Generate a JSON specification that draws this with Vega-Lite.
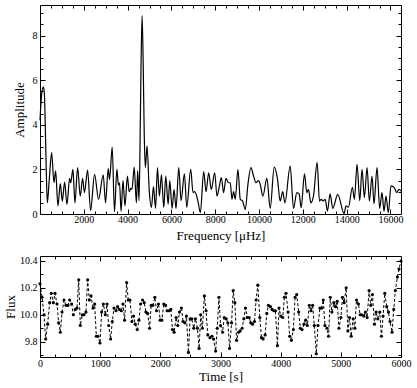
{
  "$schema": "https://vega.github.io/schema/vega-lite/v6.json",
  "padding": {"left": 4, "top": 4, "right": 10, "bottom": 4},
  "background": "white",
  "config": {
    "view": {"stroke": "black", "strokeWidth": 1},
    "axis": {
      "domain": false, "grid": false,
      "labelFont": "Liberation Serif", "titleFont": "Liberation Serif",
      "labelFontSize": 10, "titleFontSize": 13, "titleFontWeight": "normal",
      "labelColor": "black", "titleColor": "black", "tickColor": "black",
      "labelFlush": false, "labelOverlap": false, "labelPadding": 8
    }
  },
  "datasets": {
    "spec": [
      {"f": 0, "a": 4.2}, {"f": 80, "a": 5.4}, {"f": 150, "a": 5.7}, {"f": 200, "a": 5.4}, {"f": 240, "a": 4.0},
      {"f": 290, "a": 1.8}, {"f": 334, "a": 0.5}, {"f": 420, "a": 1.5}, {"f": 532, "a": 2.75}, {"f": 638, "a": 1.4},
      {"f": 714, "a": 1.93}, {"f": 820, "a": 0.36}, {"f": 927, "a": 1.36}, {"f": 1018, "a": 0.58}, {"f": 1124, "a": 1.43},
      {"f": 1230, "a": 0.43}, {"f": 1352, "a": 1.6}, {"f": 1400, "a": 1.4}, {"f": 1504, "a": 2.0}, {"f": 1595, "a": 0.5},
      {"f": 1716, "a": 2.08}, {"f": 1838, "a": 0.8}, {"f": 1944, "a": 1.6}, {"f": 2030, "a": 0.96}, {"f": 2172, "a": 1.97},
      {"f": 2309, "a": 0.16}, {"f": 2491, "a": 1.78}, {"f": 2673, "a": 0.66}, {"f": 2886, "a": 1.75}, {"f": 2992, "a": 0.5},
      {"f": 3114, "a": 2.03}, {"f": 3175, "a": 1.55}, {"f": 3296, "a": 3.0}, {"f": 3400, "a": 0.1}, {"f": 3510, "a": 2.0},
      {"f": 3580, "a": 1.3}, {"f": 3630, "a": 1.4}, {"f": 3700, "a": 0.12}, {"f": 3790, "a": 1.5}, {"f": 3880, "a": 0.36},
      {"f": 3990, "a": 1.7}, {"f": 4070, "a": 1.0}, {"f": 4150, "a": 1.15}, {"f": 4200, "a": 1.1}, {"f": 4300, "a": 2.1},
      {"f": 4400, "a": 0.5}, {"f": 4460, "a": 1.95}, {"f": 4520, "a": 0.6}, {"f": 4560, "a": 2.6}, {"f": 4610, "a": 6.5},
      {"f": 4660, "a": 8.9}, {"f": 4710, "a": 6.8}, {"f": 4760, "a": 3.5}, {"f": 4810, "a": 2.08}, {"f": 4885, "a": 3.05},
      {"f": 4990, "a": 1.0}, {"f": 5087, "a": 0.3}, {"f": 5180, "a": 1.23}, {"f": 5275, "a": 0.25}, {"f": 5362, "a": 2.08},
      {"f": 5450, "a": 0.8}, {"f": 5544, "a": 1.75}, {"f": 5650, "a": 0.3}, {"f": 5742, "a": 1.7}, {"f": 5850, "a": 0.43},
      {"f": 5924, "a": 1.5}, {"f": 6030, "a": 0.25}, {"f": 6120, "a": 1.1}, {"f": 6210, "a": 0.25}, {"f": 6334, "a": 2.08},
      {"f": 6440, "a": 0.6}, {"f": 6592, "a": 1.8}, {"f": 6700, "a": 0.3}, {"f": 6880, "a": 2.0}, {"f": 6985, "a": 0.96},
      {"f": 7060, "a": 1.0}, {"f": 7210, "a": 0.58}, {"f": 7321, "a": 0.06}, {"f": 7473, "a": 1.9}, {"f": 7580, "a": 1.0},
      {"f": 7701, "a": 1.85}, {"f": 7820, "a": 1.1}, {"f": 7975, "a": 1.85}, {"f": 8080, "a": 0.8}, {"f": 8180, "a": 1.2},
      {"f": 8277, "a": 1.63}, {"f": 8383, "a": 0.96}, {"f": 8489, "a": 1.6}, {"f": 8611, "a": 1.4}, {"f": 8687, "a": 1.4},
      {"f": 8763, "a": 0.66}, {"f": 8839, "a": 1.0}, {"f": 8915, "a": 0.66}, {"f": 9036, "a": 2.0}, {"f": 9142, "a": 0.66},
      {"f": 9249, "a": 0.58}, {"f": 9370, "a": 0.2}, {"f": 9492, "a": 1.33}, {"f": 9628, "a": 2.08}, {"f": 9750, "a": 1.7},
      {"f": 9856, "a": 1.4}, {"f": 9978, "a": 1.5}, {"f": 10054, "a": 1.33}, {"f": 10175, "a": 0.8}, {"f": 10358, "a": 1.6},
      {"f": 10509, "a": 0.25}, {"f": 10692, "a": 2.1}, {"f": 10844, "a": 1.55}, {"f": 10965, "a": 0.58}, {"f": 11080, "a": 1.0},
      {"f": 11180, "a": 0.5}, {"f": 11421, "a": 2.15}, {"f": 11573, "a": 0.25}, {"f": 11725, "a": 0.96}, {"f": 11831, "a": 0.9},
      {"f": 11922, "a": 0.28}, {"f": 12074, "a": 1.8}, {"f": 12180, "a": 0.96}, {"f": 12256, "a": 1.1}, {"f": 12363, "a": 0.5},
      {"f": 12484, "a": 0.8}, {"f": 12651, "a": 2.3}, {"f": 12760, "a": 0.58}, {"f": 12840, "a": 0.66}, {"f": 12930, "a": 0.58},
      {"f": 13020, "a": 0.66}, {"f": 13122, "a": 0.13}, {"f": 13244, "a": 0.9}, {"f": 13365, "a": 0.25}, {"f": 13593, "a": 0.88},
      {"f": 13882, "a": 0.02}, {"f": 13973, "a": 0.36}, {"f": 14079, "a": 0.3}, {"f": 14261, "a": 1.2}, {"f": 14353, "a": 0.66},
      {"f": 14474, "a": 2.23}, {"f": 14596, "a": 0.6}, {"f": 14702, "a": 2.0}, {"f": 14808, "a": 0.73}, {"f": 14930, "a": 2.08},
      {"f": 15036, "a": 0.58}, {"f": 15158, "a": 1.7}, {"f": 15248, "a": 0.46}, {"f": 15385, "a": 2.08}, {"f": 15507, "a": 0.25},
      {"f": 15613, "a": 0.96}, {"f": 15704, "a": 0.13}, {"f": 15796, "a": 0.8}, {"f": 15902, "a": 0.06}, {"f": 16024, "a": 1.26},
      {"f": 16175, "a": 1.18}, {"f": 16282, "a": 0.96}, {"f": 16388, "a": 1.1}, {"f": 16480, "a": 1.03}
    ],
    "lc": [
      {"t": 0, "v": 10.23}, {"t": 34, "v": 10.13}, {"t": 66, "v": 10.0}, {"t": 94, "v": 9.82}, {"t": 127, "v": 9.93},
      {"t": 161, "v": 10.09}, {"t": 188, "v": 10.16}, {"t": 222, "v": 10.09}, {"t": 249, "v": 10.16}, {"t": 283, "v": 10.08},
      {"t": 310, "v": 9.94}, {"t": 338, "v": 9.87}, {"t": 366, "v": 10.02}, {"t": 399, "v": 10.11}, {"t": 432, "v": 10.07},
      {"t": 465, "v": 10.07}, {"t": 493, "v": 10.11}, {"t": 526, "v": 10.08}, {"t": 554, "v": 10.0}, {"t": 587, "v": 10.04},
      {"t": 615, "v": 10.05}, {"t": 643, "v": 10.26}, {"t": 670, "v": 9.92}, {"t": 704, "v": 10.0}, {"t": 731, "v": 10.0},
      {"t": 764, "v": 10.02}, {"t": 792, "v": 10.26}, {"t": 820, "v": 10.11}, {"t": 848, "v": 10.14}, {"t": 881, "v": 10.05},
      {"t": 909, "v": 10.08}, {"t": 936, "v": 9.84}, {"t": 964, "v": 9.84}, {"t": 997, "v": 9.79}, {"t": 1025, "v": 10.02},
      {"t": 1053, "v": 10.08}, {"t": 1086, "v": 10.0}, {"t": 1114, "v": 10.08}, {"t": 1141, "v": 9.92}, {"t": 1174, "v": 9.82},
      {"t": 1202, "v": 9.95}, {"t": 1230, "v": 10.05}, {"t": 1263, "v": 10.03}, {"t": 1290, "v": 10.06}, {"t": 1318, "v": 10.04},
      {"t": 1351, "v": 10.03}, {"t": 1379, "v": 10.08}, {"t": 1406, "v": 9.96}, {"t": 1440, "v": 10.24}, {"t": 1467, "v": 10.11},
      {"t": 1495, "v": 10.11}, {"t": 1528, "v": 9.95}, {"t": 1556, "v": 9.99}, {"t": 1583, "v": 9.93}, {"t": 1616, "v": 9.89},
      {"t": 1644, "v": 9.96}, {"t": 1672, "v": 10.08}, {"t": 1705, "v": 10.11}, {"t": 1732, "v": 10.09}, {"t": 1760, "v": 10.02},
      {"t": 1788, "v": 10.01}, {"t": 1821, "v": 9.9}, {"t": 1848, "v": 10.07}, {"t": 1876, "v": 10.07}, {"t": 1909, "v": 10.13},
      {"t": 1937, "v": 10.03}, {"t": 1970, "v": 10.08}, {"t": 1997, "v": 9.96}, {"t": 2025, "v": 9.96}, {"t": 2058, "v": 10.08},
      {"t": 2086, "v": 10.07}, {"t": 2113, "v": 10.03}, {"t": 2146, "v": 10.03}, {"t": 2174, "v": 10.04}, {"t": 2202, "v": 9.89},
      {"t": 2229, "v": 9.87}, {"t": 2263, "v": 9.98}, {"t": 2290, "v": 9.92}, {"t": 2318, "v": 10.02}, {"t": 2351, "v": 10.05},
      {"t": 2378, "v": 9.95}, {"t": 2406, "v": 9.94}, {"t": 2434, "v": 9.99}, {"t": 2467, "v": 9.72}, {"t": 2495, "v": 9.97},
      {"t": 2522, "v": 9.97}, {"t": 2555, "v": 9.9}, {"t": 2583, "v": 9.97}, {"t": 2616, "v": 9.9}, {"t": 2644, "v": 9.75},
      {"t": 2671, "v": 10.0}, {"t": 2699, "v": 9.9}, {"t": 2732, "v": 10.14}, {"t": 2760, "v": 10.03}, {"t": 2788, "v": 9.85},
      {"t": 2825, "v": 9.83}, {"t": 2858, "v": 9.84}, {"t": 2885, "v": 9.82}, {"t": 2919, "v": 9.73}, {"t": 2946, "v": 9.9},
      {"t": 2974, "v": 10.13}, {"t": 3001, "v": 9.92}, {"t": 3035, "v": 9.87}, {"t": 3062, "v": 9.98}, {"t": 3095, "v": 9.97},
      {"t": 3123, "v": 9.94}, {"t": 3151, "v": 9.75}, {"t": 3184, "v": 9.94}, {"t": 3211, "v": 10.18}, {"t": 3239, "v": 10.09},
      {"t": 3267, "v": 9.81}, {"t": 3300, "v": 9.87}, {"t": 3327, "v": 9.88}, {"t": 3360, "v": 9.9}, {"t": 3388, "v": 9.97},
      {"t": 3416, "v": 10.05}, {"t": 3443, "v": 9.98}, {"t": 3476, "v": 9.98}, {"t": 3504, "v": 9.94}, {"t": 3532, "v": 9.93},
      {"t": 3565, "v": 9.95}, {"t": 3592, "v": 10.11}, {"t": 3620, "v": 10.22}, {"t": 3653, "v": 9.98}, {"t": 3681, "v": 9.83},
      {"t": 3708, "v": 9.82}, {"t": 3742, "v": 9.85}, {"t": 3769, "v": 10.01}, {"t": 3797, "v": 10.07}, {"t": 3830, "v": 10.06},
      {"t": 3857, "v": 10.04}, {"t": 3885, "v": 10.03}, {"t": 3913, "v": 10.03}, {"t": 3946, "v": 9.77}, {"t": 3973, "v": 10.05},
      {"t": 4001, "v": 9.99}, {"t": 4034, "v": 9.98}, {"t": 4062, "v": 10.13}, {"t": 4089, "v": 10.16}, {"t": 4123, "v": 10.02},
      {"t": 4150, "v": 9.84}, {"t": 4178, "v": 9.81}, {"t": 4211, "v": 9.89}, {"t": 4239, "v": 10.13}, {"t": 4266, "v": 10.15},
      {"t": 4299, "v": 10.02}, {"t": 4327, "v": 9.9}, {"t": 4355, "v": 9.89}, {"t": 4388, "v": 9.93}, {"t": 4415, "v": 9.96},
      {"t": 4443, "v": 9.92}, {"t": 4476, "v": 10.07}, {"t": 4504, "v": 10.03}, {"t": 4531, "v": 10.07}, {"t": 4559, "v": 9.92},
      {"t": 4592, "v": 9.71}, {"t": 4620, "v": 9.92}, {"t": 4653, "v": 10.05}, {"t": 4680, "v": 10.05}, {"t": 4708, "v": 10.11},
      {"t": 4736, "v": 9.92}, {"t": 4769, "v": 9.9}, {"t": 4796, "v": 9.84}, {"t": 4824, "v": 10.13}, {"t": 4852, "v": 10.02},
      {"t": 4885, "v": 10.09}, {"t": 4912, "v": 10.06}, {"t": 4940, "v": 10.1}, {"t": 4968, "v": 9.9}, {"t": 5001, "v": 9.98},
      {"t": 5028, "v": 10.13}, {"t": 5056, "v": 10.09}, {"t": 5089, "v": 10.2}, {"t": 5117, "v": 9.88}, {"t": 5144, "v": 9.98},
      {"t": 5172, "v": 9.84}, {"t": 5205, "v": 9.97}, {"t": 5233, "v": 9.9}, {"t": 5260, "v": 10.11}, {"t": 5293, "v": 10.08},
      {"t": 5321, "v": 10.0}, {"t": 5349, "v": 10.0}, {"t": 5382, "v": 9.99}, {"t": 5409, "v": 10.02}, {"t": 5437, "v": 9.98},
      {"t": 5470, "v": 10.18}, {"t": 5498, "v": 10.07}, {"t": 5525, "v": 10.15}, {"t": 5559, "v": 9.93}, {"t": 5586, "v": 10.02},
      {"t": 5614, "v": 9.97}, {"t": 5647, "v": 10.02}, {"t": 5675, "v": 9.84}, {"t": 5702, "v": 9.99}, {"t": 5730, "v": 10.16},
      {"t": 5763, "v": 10.06}, {"t": 5791, "v": 10.02}, {"t": 5818, "v": 9.95}, {"t": 5851, "v": 9.87}, {"t": 5879, "v": 10.04},
      {"t": 5906, "v": 10.18}, {"t": 5940, "v": 10.28}, {"t": 5967, "v": 10.34}, {"t": 6000, "v": 10.4}
    ]
  },
  "vconcat": [
    {
      "width": 361, "height": 209,
      "data": {"name": "spec"},
      "layer": [
        {
          "mark": {"type": "line", "color": "black", "strokeWidth": 1.2, "interpolate": "monotone"},
          "encoding": {
            "x": {"field": "f", "type": "quantitative", "scale": {"domain": [0, 16480], "nice": false, "zero": false},
              "axis": {"orient": "bottom", "title": "Frequency [μHz]",
                "values": [500,1000,1500,2000,2500,3000,3500,4000,4500,5000,5500,6000,6500,7000,7500,8000,8500,9000,9500,10000,10500,11000,11500,12000,12500,13000,13500,14000,14500,15000,15500,16000],
                "labelExpr": "datum.value % 2000 === 0 ? datum.label : ''", "format": "d", "labelPadding": 5,
                "tickSize": {"condition": {"test": "datum.value % 2000 === 0", "value": -5}, "value": -3}, "titlePadding": 3}},
            "y": {"field": "a", "type": "quantitative", "scale": {"domain": [0, 9.37], "nice": false},
              "axis": {"orient": "left", "title": "Amplitude",
                "values": [0,0.5,1,1.5,2,2.5,3,3.5,4,4.5,5,5.5,6,6.5,7,7.5,8,8.5,9],
                "labelExpr": "datum.value % 2 === 0 ? datum.label : ''", "format": ".0f",
                "tickSize": {"condition": {"test": "datum.value % 2 === 0", "value": -5}, "value": -3}, "titlePadding": 6}}
          }
        },
        {
          "mark": {"type": "line", "opacity": 0},
          "encoding": {
            "x": {"field": "f", "type": "quantitative",
              "axis": {"orient": "top", "title": null, "labels": false,
                "values": [500,1000,1500,2000,2500,3000,3500,4000,4500,5000,5500,6000,6500,7000,7500,8000,8500,9000,9500,10000,10500,11000,11500,12000,12500,13000,13500,14000,14500,15000,15500,16000],
                "tickSize": {"condition": {"test": "datum.value % 2000 === 0", "value": -5}, "value": -3}}},
            "y": {"field": "a", "type": "quantitative",
              "axis": {"orient": "right", "title": null, "labels": false,
                "values": [0.5,1,1.5,2,2.5,3,3.5,4,4.5,5,5.5,6,6.5,7,7.5,8,8.5,9],
                "tickSize": {"condition": {"test": "datum.value % 2 === 0", "value": -5}, "value": -3}}}
          }
        }
      ],
      "resolve": {"axis": {"x": "independent", "y": "independent"}}
    },
    {
      "width": 361, "height": 101,
      "data": {"name": "lc"},
      "layer": [
        {
          "mark": {"type": "line", "color": "black", "strokeWidth": 1, "strokeDash": [3, 2],
            "point": {"filled": true, "color": "black", "size": 10}},
          "encoding": {
            "x": {"field": "t", "type": "quantitative", "scale": {"domain": [0, 6000], "nice": false},
              "axis": {"orient": "bottom", "title": "Time [s]",
                "values": [0,250,500,750,1000,1250,1500,1750,2000,2250,2500,2750,3000,3250,3500,3750,4000,4250,4500,4750,5000,5250,5500,5750,6000],
                "labelExpr": "datum.value % 1000 === 0 ? datum.label : ''", "format": "d", "labelPadding": 6,
                "tickSize": {"condition": {"test": "datum.value % 1000 === 0", "value": -5}, "value": -3}, "titlePadding": 0}},
            "y": {"field": "v", "type": "quantitative", "scale": {"domain": [9.686, 10.437], "nice": false, "zero": false},
              "axis": {"orient": "left", "title": "Flux",
                "values": [9.7, 9.8, 9.9, 10.0, 10.1, 10.2, 10.3, 10.4],
                "labelExpr": "indexof([9.8, 10.0, 10.2, 10.4], datum.value) >= 0 ? datum.label : ''", "format": ".1f",
                "tickSize": {"condition": {"test": "indexof([9.8, 10.0, 10.2, 10.4], datum.value) >= 0", "value": -5}, "value": -3}, "titlePadding": 2}}
          }
        },
        {
          "mark": {"type": "line", "opacity": 0},
          "encoding": {
            "x": {"field": "t", "type": "quantitative",
              "axis": {"orient": "top", "title": null, "labels": false,
                "values": [250,500,750,1000,1250,1500,1750,2000,2250,2500,2750,3000,3250,3500,3750,4000,4250,4500,4750,5000,5250,5500,5750],
                "tickSize": {"condition": {"test": "datum.value % 1000 === 0", "value": -5}, "value": -3}}},
            "y": {"field": "v", "type": "quantitative",
              "axis": {"orient": "right", "title": null, "labels": false,
                "values": [9.7, 9.8, 9.9, 10.0, 10.1, 10.2, 10.3, 10.4],
                "tickSize": {"condition": {"test": "indexof([9.8, 10.0, 10.2, 10.4], datum.value) >= 0", "value": -5}, "value": -3}}}
          }
        }
      ],
      "resolve": {"axis": {"x": "independent", "y": "independent"}}
    }
  ],
  "spacing": 42,
  "bounds": "flush"
}
